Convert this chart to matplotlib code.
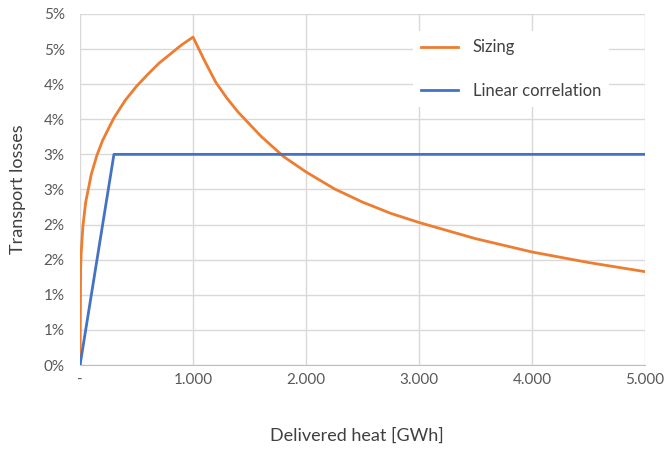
import matplotlib
matplotlib.use("Agg")
import matplotlib.pyplot as plt
from matplotlib.ticker import FixedLocator, FuncFormatter

# delivered heat [GWh] and transport losses [%]
sizing_x = [0, 5, 10, 25, 50, 100, 150, 200, 300, 400, 500, 600, 700, 800, 900, 1000,
            1100, 1200, 1300, 1400, 1500, 1600, 1800, 2000, 2250, 2500, 2750, 3000,
            3500, 4000, 4500, 5000]
sizing_y = [0.0, 1.35, 1.59, 1.97, 2.32, 2.72, 2.99, 3.20, 3.52, 3.77, 3.97, 4.14, 4.30, 4.43, 4.56, 4.67,
            4.34, 4.03, 3.80, 3.60, 3.43, 3.26, 2.97, 2.75, 2.51, 2.32, 2.16, 2.03,
            1.80, 1.61, 1.46, 1.33]

linear_x = [0, 300, 5000]
linear_y = [0.0, 3.0, 3.0]

y_ticks = [0, 0.5, 1, 1.5, 2, 2.5, 3, 3.5, 4, 4.5, 5]
x_ticks = [0, 1000, 2000, 3000, 4000, 5000]

plt.rcParams['font.family'] = ['Lato', 'DejaVu Sans']

fig = plt.figure(figsize=(6.67, 4.49), dpi=100)
ax = fig.add_axes([0.12, 0.187, 0.847, 0.782])

ax.plot(sizing_x, sizing_y, color='#ED7D31', lw=2, label='Sizing', zorder=3)
ax.plot(linear_x, linear_y, color='#4472C4', lw=2, label='Linear correlation', zorder=3)

ax.set_xlim(0, 5000)
ax.set_ylim(0, 5)
ax.xaxis.set_major_locator(FixedLocator(x_ticks))
ax.yaxis.set_major_locator(FixedLocator(y_ticks))

def xfmt(v, pos):
    if v == 0:
        return '-'
    return f'{int(v):,}'.replace(',', '.')

ax.xaxis.set_major_formatter(FuncFormatter(xfmt))
ax.yaxis.set_major_formatter(FuncFormatter(lambda v, p: f'{int(v + 0.5)}%'))

ax.grid(True, color='#D9D9D9', lw=1)
ax.set_axisbelow(True)
for s in ax.spines.values():
    s.set_visible(False)
ax.spines['bottom'].set_visible(True)
ax.spines['bottom'].set_color('#BFBFBF')
ax.tick_params(length=0, labelsize=11, labelcolor='#595959')
ax.tick_params(axis='x', pad=6)
ax.tick_params(axis='y', pad=11)

ax.set_xlabel('Delivered heat [GWh]', fontsize=13, color='#404040')
ax.set_ylabel('Transport losses', fontsize=13, color='#404040')
ax.xaxis.set_label_coords(0.49, -0.178)
ax.yaxis.set_label_coords(-0.096, 0.5)

leg = ax.legend(loc='upper left', bbox_to_anchor=(0.574, 0.975), frameon=True,
                facecolor='white', edgecolor='none', framealpha=1, fancybox=False,
                fontsize=12, handlelength=2.25, labelspacing=1.65, handletextpad=0.85,
                borderpad=0.5)
for t in leg.get_texts():
    t.set_color('#404040')

fig.savefig('out.png', dpi=100)
